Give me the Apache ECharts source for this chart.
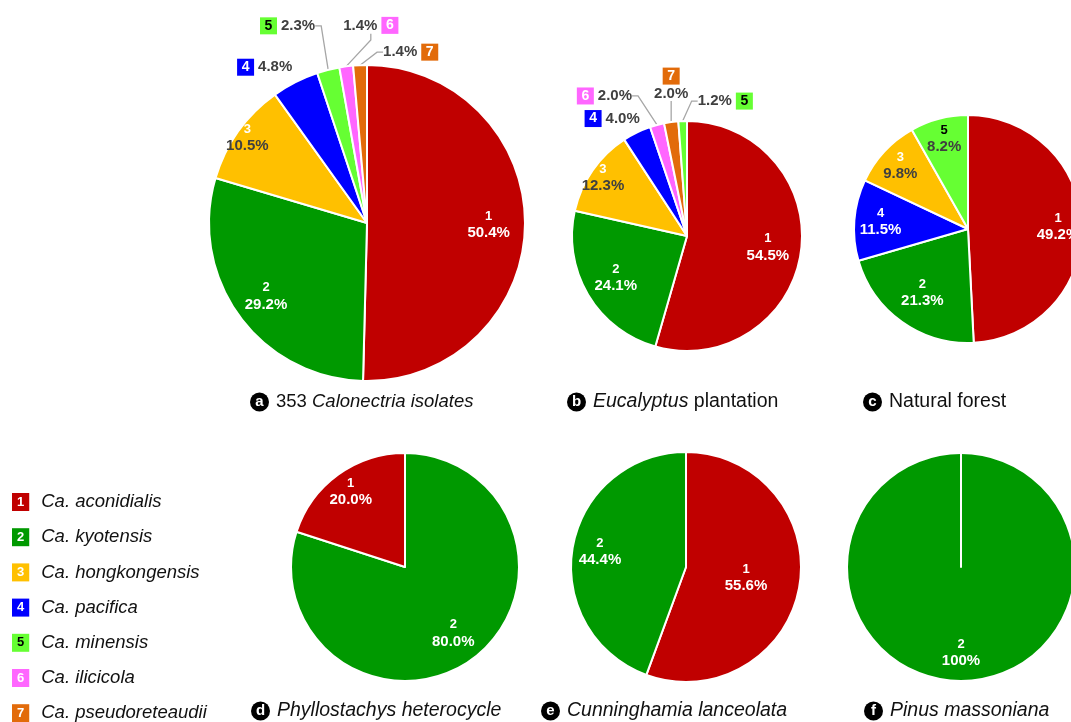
<!DOCTYPE html>
<html><head><meta charset="utf-8">
<script src="https://cdn.jsdelivr.net/npm/echarts@6/dist/echarts.min.js"></script>
<style>html,body{margin:0;padding:0;background:#fff}#c{width:1071px;height:722px}</style>
</head><body><div id="c"></div>
<script>
// ---------- DATA ----------
const species = ['Ca. aconidialis','Ca. kyotensis','Ca. hongkongensis','Ca. pacifica','Ca. minensis','Ca. ilicicola','Ca. pseudoreteaudii'];
const pieA_ids = [1,2,3,4,5,6,7];
const pieA_vals = [50.4,29.2,10.5,4.8,2.3,1.4,1.4];
const pieB_ids = [1,2,3,4,6,7,5];
const pieB_vals = [54.5,24.1,12.3,4.0,2.0,2.0,1.2];
const pieC_ids = [1,2,4,3,5];
const pieC_vals = [49.2,21.3,11.5,9.8,8.2];
const pieD_ids = [2,1];
const pieD_vals = [80.0,20.0];
const pieE_ids = [1,2];
const pieE_vals = [55.6,44.4];
const pieF_ids = [2,1];
const pieF_vals = [100,0];
const captionLetters = ['a','b','c','d','e','f'];
const captionTexts = [
  [['353 ','n'],['Calonectria isolates','i']],
  [['Eucalyptus','i'],[' plantation','n']],
  [['Natural forest','n']],
  [['Phyllostachys heterocycle','i']],
  [['Cunninghamia lanceolata','i']],
  [['Pinus massoniana','i']]
];

// ---------- STYLE ----------
const FONT = "'Liberation Sans', Arial, sans-serif";
const colors = ['#C00000','#009900','#FFC000','#0000FF','#66FF33','#FF66FF','#E26B0A'];
const numColor = ['#fff','#fff','#fff','#fff','#000','#fff','#fff'];
const pctColor = ['#fff','#fff','#404040','#fff','#404040','#fff','#fff'];

const pies = [
  {ids:pieA_ids, vals:pieA_vals, center:[367,223], r:158,
   inside:{1:0.77,2:0.79,3:0.93},
   outside:{4:{dx:-3,dy:-15,align:'right',fmt:'bp',line:false},
            5:{dx:-13,dy:-44,align:'right',fmt:'bp',line:true},
            6:{dx:-3,dy:-41,align:'left',fmt:'pb',line:true},
            7:{dx:23,dy:-13,align:'left',fmt:'pb',line:true}}},
  {ids:pieB_ids, vals:pieB_vals, center:[687,236], r:115,
   inside:{1:0.71,2:0.72,3:0.89},
   outside:{4:{dx:3,dy:-14,align:'right',fmt:'bp',line:false},
            6:{dx:-25,dy:-29,align:'right',fmt:'bp',line:true},
            7:{dx:0,dy:-37,align:'center',fmt:'stack',line:true},
            5:{dx:15,dy:-20,align:'left',fmt:'pb',line:true}}},
  {ids:pieC_ids, vals:pieC_vals, center:[968,229], r:114,
   inside:{1:0.79,2:0.69,4:0.77,3:0.81,5:0.82}, outside:{}},
  {ids:pieD_ids, vals:pieD_vals, center:[405,567], r:114,
   inside:{2:0.72,1:0.81}, outside:{}},
  {ids:pieE_ids, vals:pieE_vals, center:[686,567], r:115,
   inside:{1:0.53,2:0.76}, outside:{}},
  {ids:pieF_ids, vals:pieF_vals, center:[961,567], r:114,
   inside:{2:0.75}, outside:{}}
];
const captionPos = [[250,402],[567,402],[863,402],[251,711],[541,711],[864,711]];
const captionSize = [18.5,19.5,19.5,19.5,19.5,19.5];

function pctText(v){ return v === 100 ? '100%' : v.toFixed(1) + '%'; }

const rich = {
  q:{color:'#404040', fontSize:15, fontWeight:'bold', fontFamily:FONT, lineHeight:18},
  sp:{width:4}
};
for (let i=0;i<7;i++){
  rich['n'+(i+1)] = {color:numColor[i], fontSize:13, fontWeight:'bold', fontFamily:FONT, lineHeight:16, align:'center'};
  rich['p'+(i+1)] = {color:pctColor[i], fontSize:15, fontWeight:'bold', fontFamily:FONT, lineHeight:17, align:'center'};
  rich['b'+(i+1)] = {backgroundColor:colors[i], color:numColor[i], width:17, height:17, lineHeight:17,
                     align:'center', verticalAlign:'middle', fontSize:14, fontWeight:'bold', fontFamily:FONT};
}

const series = pies.map((p) => {
  const total = p.vals.reduce((a,b)=>a+b,0);
  let cum = 0;
  const mids = p.vals.map(v => { const m = (cum + v/2)/total*2*Math.PI; cum += v; return m; });
  const data = p.vals.map((v,k) => {
    const id = p.ids[k];
    const item = {value:v, name:species[id-1], itemStyle:{color:colors[id-1]}};
    if (p.outside[id]) {
      const o = p.outside[id];
      let f;
      if (o.fmt==='bp') f = `{b${id}|${id}}{sp| }{q|${pctText(v)}}`;
      else if (o.fmt==='pb') f = `{q|${pctText(v)}}{sp| }{b${id}|${id}}`;
      else f = `{b${id}|${id}}\n{q|${pctText(v)}}`;
      item.label = {show:true, position:'outside', formatter:f};
      item.labelLine = {show:o.line};
    } else if (p.inside[id]) {
      item.label = {show:true, position:'inside', formatter:`{n${id}|${id}}\n{p${id}|${pctText(v)}}`};
      item.labelLine = {show:false};
    } else {
      item.label = {show:false};
      item.labelLine = {show:false};
    }
    return item;
  });
  return {
    type:'pie', center:p.center, radius:p.r, startAngle:90, clockwise:true,
    avoidLabelOverlap:false, animation:false, silent:true,
    itemStyle:{borderColor:'#fff', borderWidth:2},
    label:{rich:rich, fontFamily:FONT},
    labelLine:{length:8, length2:6, smooth:false, lineStyle:{color:'#a6a6a6', width:1.3}},
    data:data,
    labelLayout:function(params){
      const k = params.dataIndex;
      const id = p.ids[k];
      const th = mids[k];
      const s = Math.sin(th), c = Math.cos(th);
      if (p.outside[id]) {
        const o = p.outside[id];
        return {x:p.center[0] + p.r*s + o.dx, y:p.center[1] - p.r*c + o.dy, align:o.align, verticalAlign:'middle'};
      }
      if (p.inside[id]) {
        const f = p.inside[id];
        return {x:p.center[0] + f*p.r*s, y:p.center[1] - f*p.r*c, align:'center', verticalAlign:'middle'};
      }
      return {};
    }
  };
});

// captions
const titles = captionLetters.map((L,i) => {
  const fs = captionSize[i];
  const capRich = {
    c:{backgroundColor:'#000', color:'#fff', width:19, height:19, lineHeight:19, borderRadius:10, align:'center',
       fontSize:15, fontWeight:'bold', fontFamily:FONT},
    g:{width:7},
    n:{fontSize:fs, color:'#111', fontWeight:'normal', fontFamily:FONT, lineHeight:22},
    i:{fontSize:fs, color:'#111', fontWeight:'normal', fontStyle:'italic', fontFamily:FONT, lineHeight:22}
  };
  return {
    left:captionPos[i][0], top:captionPos[i][1]-11, padding:0, textAlign:'left',
    text:`{c|${L}}{g| }` + captionTexts[i].map(t => `{${t[1]}|${t[0]}}`).join(''),
    textStyle:{rich:capRich, fontFamily:FONT, fontWeight:'normal'}
  };
});

// legend
const legRich = {t:{fontSize:18.5, fontStyle:'italic', fontWeight:'normal', color:'#111', fontFamily:FONT, padding:[0,0,0,12], lineHeight:35.2}};
for (let i=0;i<7;i++){
  legRich['b'+(i+1)] = {backgroundColor:colors[i], color:numColor[i], height:18, lineHeight:18, padding:[0,5,0,5],
    fontSize:13, fontWeight:'bold', fontFamily:FONT};
}
titles.push({
  left:12, top:502-17.6, padding:0, textAlign:'left',
  text: species.map((s,i)=>`{b${i+1}|${i+1}}{t|${s}}`).join('\n'),
  textStyle:{rich:legRich, lineHeight:35.2, fontFamily:FONT, fontWeight:'normal'}
});

const chart = echarts.init(document.getElementById('c'), null, {renderer:'canvas'});
chart.setOption({backgroundColor:'#fff', animation:false, title:titles, series:series});
</script>
</body></html>
